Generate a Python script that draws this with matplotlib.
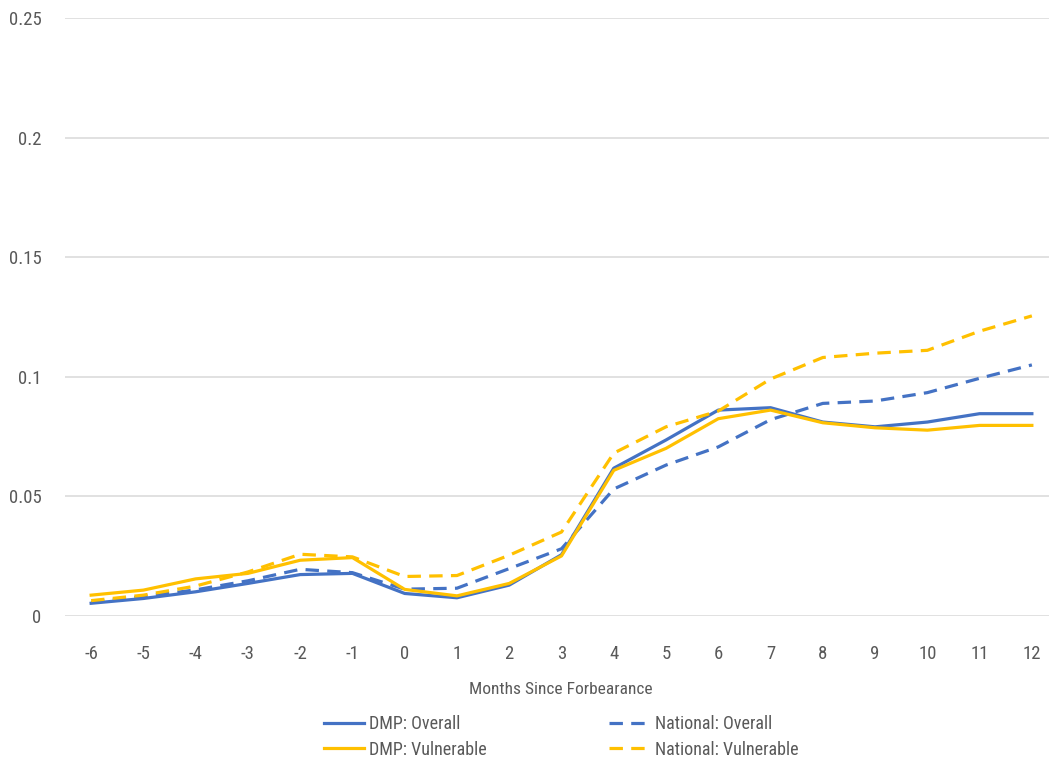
import matplotlib
matplotlib.use("Agg")
import matplotlib.pyplot as plt
from matplotlib import font_manager

months = [-6, -5, -4, -3, -2, -1, 0, 1, 2, 3, 4, 5, 6, 7, 8, 9, 10, 11, 12]
dmp_overall = [0.0052, 0.0072, 0.0100, 0.0135, 0.0172, 0.0177, 0.0093, 0.0075, 0.0128, 0.0255,
               0.0617, 0.0735, 0.0860, 0.0870, 0.0810, 0.0790, 0.0810, 0.0845, 0.0845]
dmp_vulnerable = [0.0086, 0.0107, 0.0154, 0.0177, 0.0232, 0.0243, 0.0110, 0.0083, 0.0135, 0.0250,
                  0.0608, 0.0700, 0.0824, 0.0860, 0.0807, 0.0786, 0.0776, 0.0796, 0.0796]
nat_overall = [0.0055, 0.0080, 0.0108, 0.0146, 0.0194, 0.0180, 0.0111, 0.0115, 0.0197, 0.0280,
               0.0530, 0.0630, 0.0706, 0.0820, 0.0888, 0.0898, 0.0933, 0.0993, 0.1049]
nat_vulnerable = [0.0063, 0.0086, 0.0124, 0.0183, 0.0257, 0.0246, 0.0164, 0.0168, 0.0253, 0.0350,
                  0.0680, 0.0790, 0.0856, 0.0990, 0.1080, 0.1098, 0.1110, 0.1190, 0.1254]
y_ticks = [0, 0.05, 0.1, 0.15, 0.2, 0.25]
y_labels = ["0", "0.05", "0.1", "0.15", "0.2", "0.25"]

avail = {f.name for f in font_manager.fontManager.ttflist}
fam = [f for f in ["Roboto Condensed", "Liberation Sans Narrow", "Open Sans Condensed"] if f in avail]
plt.rcParams['font.family'] = fam + ["DejaVu Sans"]

W, H = 1049, 766
fig = plt.figure(figsize=(W / 100, H / 100), dpi=100)
x_left, x_right = 65, 1058
y_top, y_bot = 18, 615.7
ax = fig.add_axes([x_left / W, (H - y_bot) / H, (x_right - x_left) / W, (y_bot - y_top) / H])

blue = "#4472C4"
gold = "#FFC000"
lw = 2.3
dash = (0, (4.2, 2.6))

ax.plot(months, dmp_overall, color=blue, lw=lw, label="DMP: Overall")
ax.plot(months, nat_overall, color=blue, lw=lw, ls=dash, label="National: Overall")
ax.plot(months, dmp_vulnerable, color=gold, lw=lw, label="DMP: Vulnerable")
ax.plot(months, nat_vulnerable, color=gold, lw=lw, ls=dash, label="National: Vulnerable")

ax.set_xlim(-6.5, 12.5)
ax.set_ylim(0, 0.25)
ax.set_yticks(y_ticks)
ax.set_yticklabels(y_labels)
ax.set_xticks(months)
ax.set_xticklabels([str(m) for m in months])
ax.grid(axis='y', color='#D9D9D9', lw=1.1)
ax.set_axisbelow(True)
for s in ax.spines.values():
    s.set_visible(False)
ax.tick_params(length=0, colors='#595959', labelsize=13.5)
ax.tick_params(axis='x', pad=21)
ax.tick_params(axis='y', pad=17)

fig.text(561 / W, 1 - 690 / H, "Months Since Forbearance", ha='center', va='center',
         color='#595959', fontsize=12.5)

handles, labels = ax.get_legend_handles_labels()
order = [0, 2, 1, 3]
leg = fig.legend([handles[i] for i in order], [labels[i] for i in order],
                 loc='center', bbox_to_anchor=(561 / W, 1 - 737 / H), ncol=2, frameon=False,
                 fontsize=13, handlelength=2.2, columnspacing=6.8, labelspacing=0.42,
                 handletextpad=0.3, labelcolor='#595959')

fig.savefig("out.png", dpi=100)
